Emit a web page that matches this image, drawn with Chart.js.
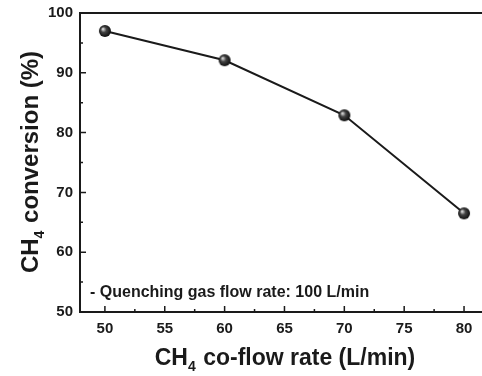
<!DOCTYPE html>
<html>
<head>
<meta charset="utf-8">
<script src="https://cdn.jsdelivr.net/npm/chart.js@4.4.1/dist/chart.umd.min.js"></script>
<style>
  html, body { margin: 0; padding: 0; background: #fff; }
  #wrap { width: 482px; height: 376px; }
</style>
</head>
<body>
<div id="wrap"><canvas id="convChart" width="482" height="376"></canvas></div>
<script>
// data
const flowRates = [50, 60, 70, 80];
const conversion = [97.0, 92.1, 82.9, 66.5];
const xTickValues = [50, 55, 60, 65, 70, 75, 80];
const xMinorValues = [52.5, 57.5, 62.5, 67.5, 72.5, 77.5];
const yTickValues = [50, 60, 70, 80, 90, 100];
const yMinorValues = [55, 65, 75, 85, 95];
const noteText = "- Quenching gas flow rate: 100 L/min";

const FONT = "'Liberation Sans', Arial, sans-serif";
const INK = "#1a1a1a";

// little shaded ball for the markers
function makeBall(r) {
  const c = document.createElement("canvas");
  c.width = c.height = r * 2 + 2;
  const g = c.getContext("2d");
  const grad = g.createRadialGradient(r - 1, r - 1, 0.5, r + 1, r + 1, r + 1);
  grad.addColorStop(0, "#d8d8d8");
  grad.addColorStop(0.35, "#444");
  grad.addColorStop(1, "#000");
  g.fillStyle = grad;
  g.beginPath();
  g.arc(r + 1, r + 1, r, 0, Math.PI * 2);
  g.fill();
  return c;
}

// inward ticks, top frame line, axis titles and the note
const decorPlugin = {
  id: "decor",
  afterDraw(chart) {
    const { ctx, chartArea: a, scales } = chart;
    const x = scales.x, y = scales.y;
    ctx.save();
    ctx.strokeStyle = INK;
    ctx.lineWidth = 1.5;
    ctx.beginPath();
    xTickValues.forEach(v => { const px = x.getPixelForValue(v); ctx.moveTo(px, a.bottom); ctx.lineTo(px, a.bottom - 6); });
    xMinorValues.forEach(v => { const px = x.getPixelForValue(v); ctx.moveTo(px, a.bottom); ctx.lineTo(px, a.bottom - 3); });
    yTickValues.forEach(v => { const py = y.getPixelForValue(v); ctx.moveTo(a.left, py); ctx.lineTo(a.left + 6, py); });
    yMinorValues.forEach(v => { const py = y.getPixelForValue(v); ctx.moveTo(a.left, py); ctx.lineTo(a.left + 3, py); });
    ctx.stroke();

    // top frame
    ctx.lineWidth = 2;
    ctx.beginPath();
    ctx.moveTo(a.left - 1, a.top);
    ctx.lineTo(a.right, a.top);
    ctx.stroke();

    ctx.fillStyle = INK;
    ctx.textBaseline = "alphabetic";

    // axis titles, CH4 with subscript
    const drawTitle = (rest, size) => {
      const big = "bold " + size + "px " + FONT, sub = "bold 14px " + FONT;
      ctx.font = big; const wCH = ctx.measureText("CH").width;
      ctx.font = sub; const w4 = ctx.measureText("4").width + 1;
      ctx.font = big; const wRest = ctx.measureText(rest).width;
      let sx = -(wCH + w4 + wRest) / 2;
      ctx.font = big; ctx.fillText("CH", sx, 0); sx += wCH;
      ctx.font = sub; ctx.fillText("4", sx, 6); sx += w4;
      ctx.font = big; ctx.fillText(rest, sx, 0);
    };
    ctx.save();
    ctx.translate(285, 365);
    drawTitle(" co-flow rate (L/min)", 23);
    ctx.restore();

    ctx.save();
    ctx.translate(38, 162);
    ctx.rotate(-Math.PI / 2);
    drawTitle(" conversion (%)", 24);
    ctx.restore();

    // note
    ctx.font = "bold 16px " + FONT;
    ctx.fillText(noteText, a.left + 10, y.getPixelForValue(52.5));
    ctx.restore();
  }
};

new Chart(document.getElementById("convChart").getContext("2d"), {
  type: "line",
  data: {
    datasets: [{
      data: flowRates.map((v, i) => ({ x: v, y: conversion[i] })),
      borderColor: INK,
      borderWidth: 2,
      pointStyle: makeBall(6),
      pointRadius: 6,
      tension: 0,
      fill: false
    }]
  },
  options: {
    responsive: false,
    animation: false,
    layout: { autoPadding: false, padding: { top: 13, right: 0, left: 0, bottom: 0 } },
    plugins: { legend: { display: false }, tooltip: { enabled: false } },
    scales: {
      x: {
        type: "linear",
        min: 47.92,
        max: 81.5,
        afterBuildTicks: s => { s.ticks = xTickValues.map(v => ({ value: v })); },
        afterFit: s => { s.height = 64; s.paddingLeft = 0; s.paddingRight = 0; },
        grid: { drawOnChartArea: false, drawTicks: false },
        border: { display: true, color: INK, width: 2 },
        ticks: { color: INK, padding: 8, font: { family: FONT, size: 15, weight: "bold" } }
      },
      y: {
        min: 50,
        max: 100,
        afterBuildTicks: s => { s.ticks = yTickValues.map(v => ({ value: v })); },
        afterFit: s => { s.width = 80; s.paddingTop = 0; s.paddingBottom = 0; },
        grid: { drawOnChartArea: false, drawTicks: false },
        border: { display: true, color: INK, width: 2 },
        ticks: { color: INK, padding: 7, font: { family: FONT, size: 15, weight: "bold" } }
      }
    }
  },
  plugins: [decorPlugin]
});
</script>
</body>
</html>
